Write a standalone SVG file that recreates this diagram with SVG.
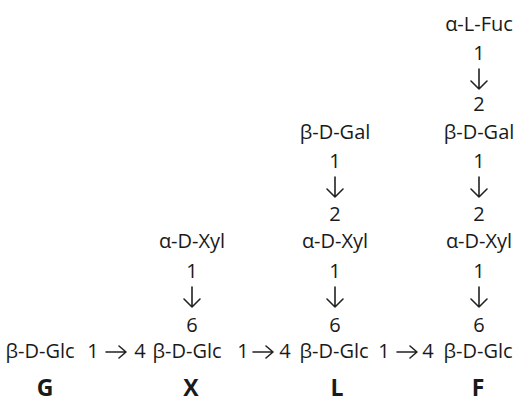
<svg xmlns="http://www.w3.org/2000/svg" width="520" height="403" viewBox="0 0 520 403">
<style>
text{font-family:"Open Sans","Noto Sans",sans-serif;font-size:20px;fill:#1a1a1a;text-anchor:middle}
.lb{font-weight:bold;font-size:23px}
.ar{fill:none;stroke:#222;stroke-width:1.6;stroke-linecap:round;stroke-linejoin:round}
</style>
<defs>
<path id="dn" class="ar" d="M0,0V20M-8,12L0,20L8,12"/>
<path id="rt" class="ar" d="M0,0H20M13,-6L20,0L13,6"/>
</defs>
<rect width="520" height="403" fill="#fff"/>
<g id="G">
<text x="40" y="358">β-D-Glc</text>
<text x="93" y="358">1</text>
<text class="lb" x="45" y="396">G</text>
</g>
<g id="X">
<text x="140" y="358">4</text>
<text x="187" y="358">β-D-Glc</text>
<text x="243" y="358">1</text>
<text x="192" y="332">6</text>
<text x="192" y="278">1</text>
<text x="192" y="248">α-D-Xyl</text>
<text class="lb" x="191" y="396">X</text>
</g>
<g id="L">
<text x="285" y="358">4</text>
<text x="334" y="358">β-D-Glc</text>
<text x="384" y="358">1</text>
<text x="335" y="332">6</text>
<text x="335" y="278">1</text>
<text x="335" y="248">α-D-Xyl</text>
<text x="335" y="221">2</text>
<text x="335" y="168">1</text>
<text x="335" y="139">β-D-Gal</text>
<text class="lb" x="337" y="396">L</text>
</g>
<g id="F">
<text x="428" y="358">4</text>
<text x="478" y="358">β-D-Glc</text>
<text x="479" y="332">6</text>
<text x="479" y="278">1</text>
<text x="479" y="248">α-D-Xyl</text>
<text x="479" y="221">2</text>
<text x="479" y="168">1</text>
<text x="479" y="139">β-D-Gal</text>
<text x="479" y="111">2</text>
<text x="479" y="60">1</text>
<text x="479" y="31">α-L-Fuc</text>
<text class="lb" x="478" y="396">F</text>
</g>
<g id="connectors">
<use href="#rt" x="106" y="352"/>
<use href="#rt" x="253" y="352"/>
<use href="#rt" x="397" y="352"/>
<use href="#dn" x="192" y="287"/>
<use href="#dn" x="335" y="287"/>
<use href="#dn" x="479" y="287"/>
<use href="#dn" x="335" y="177"/>
<use href="#dn" x="479" y="177"/>
<use href="#dn" x="479" y="69"/>
</g>
</svg>
